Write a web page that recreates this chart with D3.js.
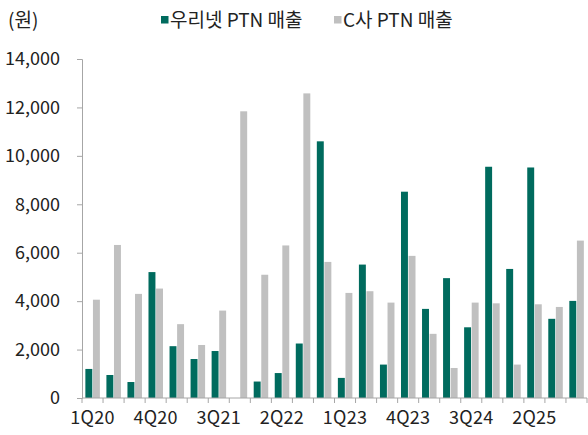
<!DOCTYPE html>
<html>
<head>
<meta charset="utf-8">
<script src="https://cdn.jsdelivr.net/npm/d3@7"></script>
<style>
  body { margin: 0; background: #fff; }
  text { font-family: "Noto Sans CJK KR", "Noto Sans", sans-serif; fill: #222; }
</style>
</head>
<body>
<div id="chart"></div>
<script>
// quarters 1Q20 .. 4Q25
var quarters = ['1Q20','2Q20','3Q20','4Q20','1Q21','2Q21','3Q21','4Q21',
  '1Q22','2Q22','3Q22','4Q22','1Q23','2Q23','3Q23','4Q23',
  '1Q24','2Q24','3Q24','4Q24','1Q25','2Q25','3Q25','4Q25'];
var wooriValues = [1200, 950, 660, 5200, 2140, 1610, 1940, 0,
  680, 1030, 2250, 10600, 830, 5510, 1380, 8520,
  3680, 4950, 2920, 9550, 5330, 9520, 3270, 4010];
var cValues = [4060, 6320, 4300, 4520, 3050, 2190, 3610, 11840,
  5090, 6300, 12580, 5620, 4340, 4410, 3940, 5870,
  2650, 1240, 3940, 3910, 1380, 3870, 3760, 6500];
var shownLabels = ['1Q20','4Q20','3Q21','2Q22','1Q23','4Q23','3Q24','2Q25'];
var yTicks = [0, 2000, 4000, 6000, 8000, 10000, 12000, 14000];
var seriesNames = ['우리넷 PTN 매출', 'C사 PTN 매출'];
var colors = ['#006b5e', '#c0c0c0'];

var width = 588, height = 435,
  margin = { top: 59, right: 1, bottom: 37, left: 82 };

var svg = d3.select('#chart').append('svg')
  .attr('width', width).attr('height', height);

var x = d3.scaleBand().domain(quarters)
  .range([margin.left, width - margin.right]).padding(0);
var y = d3.scaleLinear().domain([0, 14000])
  .range([height - margin.bottom, margin.top]);

var bw = x.bandwidth();
var barW = bw * 0.33;

// bars
var g = svg.append('g');
g.selectAll('rect.woori').data(wooriValues).enter().append('rect')
  .attr('class', 'woori')
  .attr('x', function(d, i) { return x(quarters[i]) + bw * 0.16; })
  .attr('width', barW)
  .attr('y', function(d) { return y(d); })
  .attr('height', function(d) { return y(0) - y(d); })
  .attr('fill', colors[0]);
g.selectAll('rect.c').data(cValues).enter().append('rect')
  .attr('class', 'c')
  .attr('x', function(d, i) { return x(quarters[i]) + bw * 0.52; })
  .attr('width', barW)
  .attr('y', function(d) { return y(d); })
  .attr('height', function(d) { return y(0) - y(d); })
  .attr('fill', colors[1]);

// y axis
var yAxis = svg.append('g')
  .attr('transform', 'translate(' + margin.left + ',0)')
  .call(d3.axisLeft(y).tickValues(yTicks).tickSize(5).tickPadding(17)
    .tickFormat(d3.format(',')));
yAxis.select('.domain').attr('stroke', '#a6a6a6');
yAxis.selectAll('.tick line').attr('stroke', '#a6a6a6');
yAxis.selectAll('.tick text').style('font-size', '18px').attr('fill', '#222');

// x axis: ticks between bands
var xAxis = svg.append('g')
  .attr('transform', 'translate(0,' + y(0) + ')');
xAxis.append('line')
  .attr('x1', margin.left).attr('x2', width - margin.right)
  .attr('stroke', '#a6a6a6');
xAxis.selectAll('line.tk').data(quarters.concat(['end'])).enter().append('line')
  .attr('class', 'tk')
  .attr('x1', function(d, i) { return margin.left + i * bw; })
  .attr('x2', function(d, i) { return margin.left + i * bw; })
  .attr('y1', 0).attr('y2', 5)
  .attr('stroke', '#a6a6a6');
xAxis.selectAll('text').data(shownLabels).enter().append('text')
  .attr('x', function(d) { return x(d) + bw / 2; })
  .attr('y', 26)
  .attr('text-anchor', 'middle')
  .style('font-size', '18px')
  .style('letter-spacing', '0.3px')
  .text(function(d) { return d; });

// unit
svg.append('text').attr('x', 8).attr('y', 27)
  .style('font-size', '19px').text('(원)');

// legend
var legendX = [161, 334];
seriesNames.forEach(function(name, i) {
  svg.append('rect').attr('x', legendX[i]).attr('y', 16)
    .attr('width', 7.5).attr('height', 7.5).attr('fill', colors[i]);
  svg.append('text').attr('x', legendX[i] + 9).attr('y', 27)
    .style('font-size', '19px').text(name);
});
</script>
</body>
</html>
